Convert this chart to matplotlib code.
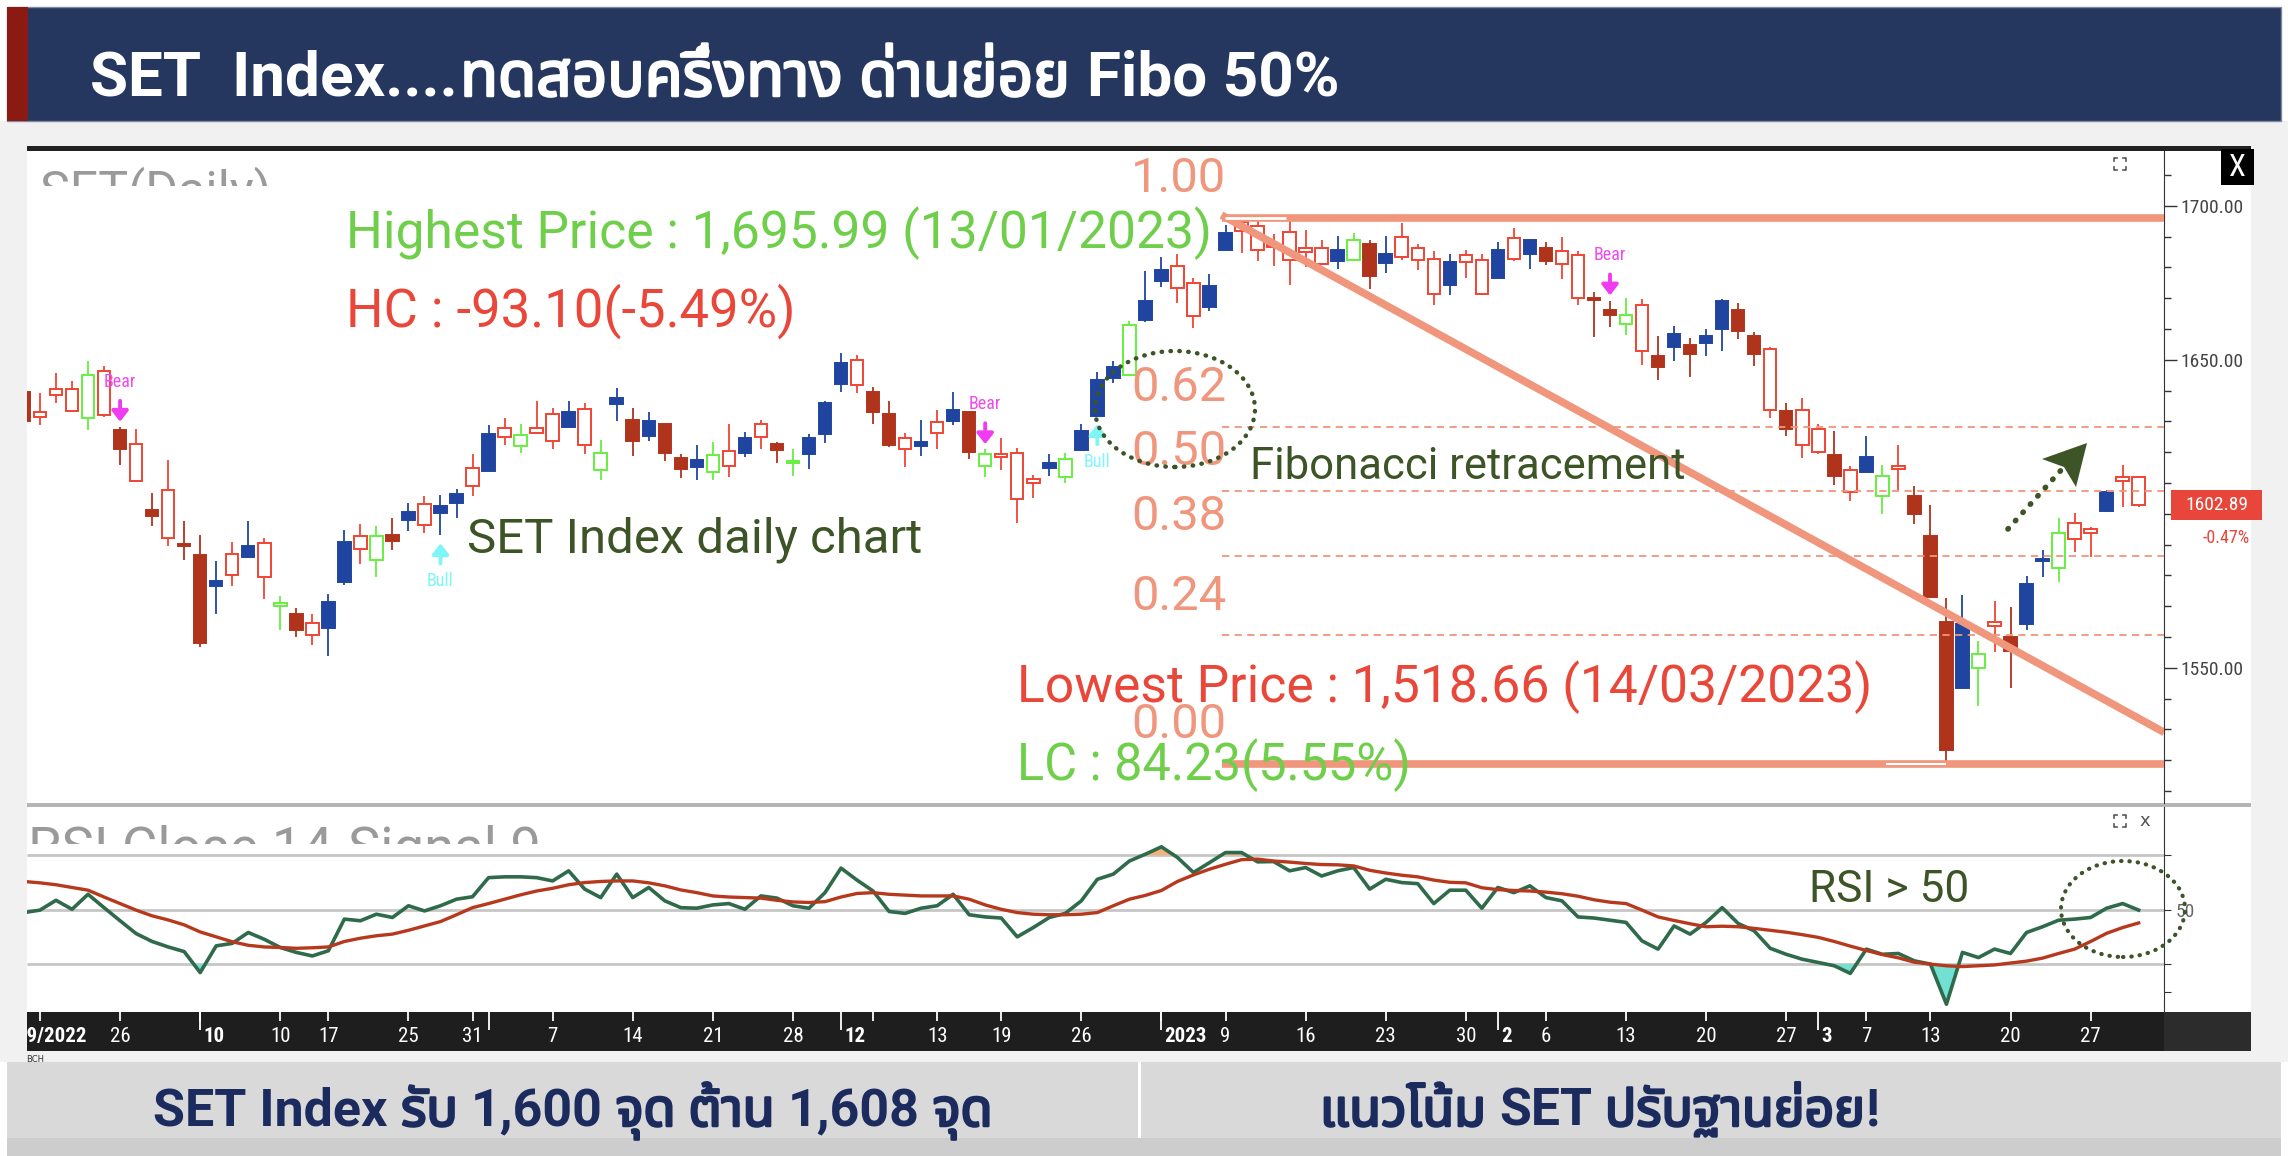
import matplotlib
matplotlib.use("Agg")
import numpy as np
import matplotlib.pyplot as plt
import matplotlib.patheffects as pe
from matplotlib import font_manager
from matplotlib.ft2font import FT2Font
from matplotlib.lines import Line2D
from matplotlib.patches import Ellipse, Polygon, Rectangle
from matplotlib.transforms import Bbox, TransformedBbox, blended_transform_factory

W, H = 2288, 1156  # output in pixels, dpi 100

# SET daily candles 16/09/2022 .. 30/03/2023 (one entry per trading day)
highs = [
    1640.2, 1639.1, 1645.6, 1643.1, 1649.6, 1648.0, 1628.2, 1627.5, 1606.6, 1617.4,
    1597.7, 1593.1, 1584.7, 1590.8, 1597.7, 1592.3, 1573.4, 1569.3, 1567.4, 1573.9,
    1594.9, 1596.6, 1596.0, 1598.5, 1603.4, 1605.7, 1606.1, 1607.9, 1619.4, 1628.8,
    1631.2, 1629.3, 1636.7, 1634.5, 1636.7, 1636.0, 1623.9, 1640.7, 1634.2, 1633.0,
    1629.3, 1619.3, 1622.3, 1623.4, 1629.3, 1626.4, 1630.6, 1623.4, 1620.9, 1625.9,
    1636.6, 1652.1, 1651.5, 1641.2, 1636.6, 1626.3, 1630.6, 1633.7, 1639.6, 1633.1,
    1620.9, 1624.5, 1621.5, 1612.6, 1619.3, 1619.8, 1629.3, 1646.1, 1649.6, 1662.6,
    1678.9, 1683.5, 1684.2, 1676.6, 1678.0, 1693.7, 1695.9, 1695.4, 1691.0, 1695.99,
    1692.0, 1688.9, 1690.2, 1691.2, 1688.9, 1690.2, 1694.3, 1687.7, 1685.4, 1684.2,
    1685.8, 1684.2, 1688.3, 1692.9, 1688.9, 1688.3, 1689.9, 1685.2, 1672.1, 1669.2,
    1670.2, 1669.6, 1657.8, 1660.9, 1657.2, 1660.0, 1669.7, 1668.5, 1659.0, 1654.3,
    1635.9, 1637.5, 1629.1, 1626.8, 1615.4, 1625.3, 1615.7, 1622.4, 1609.1, 1603.0,
    1572.7, 1573.7, 1558.8, 1571.8, 1569.7, 1579.8, 1588.2, 1598.7, 1600.3, 1595.8,
    1607.8, 1615.7, 1611.9]
body_hi = [
    1639.4, 1633.0, 1640.6, 1640.6, 1645.2, 1646.4, 1627.2, 1622.6, 1601.2, 1607.7,
    1590.0, 1586.5, 1578.3, 1586.9, 1589.5, 1590.6, 1570.9, 1567.4, 1564.4, 1571.4,
    1590.7, 1592.7, 1592.7, 1593.1, 1600.6, 1603.1, 1602.5, 1606.3, 1615.0, 1625.8,
    1628.0, 1625.5, 1628.0, 1632.3, 1633.0, 1634.0, 1619.8, 1637.7, 1630.6, 1630.1,
    1629.3, 1618.0, 1617.4, 1619.1, 1620.4, 1624.5, 1629.1, 1622.6, 1617.2, 1624.5,
    1636.0, 1649.0, 1650.1, 1639.5, 1632.4, 1624.5, 1623.4, 1629.9, 1633.7, 1633.1,
    1619.3, 1619.3, 1619.6, 1611.4, 1616.6, 1617.9, 1627.0, 1643.6, 1647.7, 1661.3,
    1669.2, 1679.3, 1680.4, 1675.0, 1673.9, 1691.2, 1694.8, 1693.4, 1687.2, 1691.6,
    1686.4, 1686.2, 1685.8, 1688.9, 1687.7, 1684.5, 1689.9, 1686.2, 1682.7, 1681.7,
    1683.9, 1682.3, 1685.8, 1689.5, 1688.9, 1686.4, 1685.2, 1683.9, 1670.2, 1666.2,
    1664.6, 1667.7, 1651.3, 1658.4, 1654.7, 1657.8, 1669.1, 1666.2, 1657.7, 1653.6,
    1633.4, 1633.7, 1627.4, 1619.2, 1614.1, 1618.6, 1612.2, 1615.4, 1605.9, 1592.9,
    1564.9, 1564.2, 1554.5, 1564.9, 1560.1, 1577.3, 1585.3, 1593.9, 1597.1, 1595.2,
    1607.2, 1611.9, 1611.9]
body_lo = [
    1630.2, 1631.3, 1638.5, 1633.3, 1631.0, 1632.0, 1621.2, 1610.6, 1599.2, 1592.2,
    1589.6, 1557.9, 1576.5, 1580.1, 1586.0, 1579.5, 1570.0, 1562.2, 1560.6, 1563.0,
    1577.7, 1588.5, 1585.0, 1591.2, 1598.0, 1596.3, 1600.3, 1603.4, 1609.0, 1614.0,
    1624.8, 1622.0, 1626.1, 1623.7, 1628.2, 1622.5, 1614.2, 1635.5, 1623.6, 1625.4,
    1619.9, 1614.7, 1615.3, 1613.6, 1615.5, 1619.9, 1625.0, 1620.7, 1616.6, 1619.4,
    1625.9, 1642.1, 1641.7, 1633.1, 1622.3, 1620.9, 1622.0, 1626.3, 1630.2, 1620.1,
    1615.5, 1618.5, 1604.7, 1610.1, 1615.0, 1612.0, 1620.7, 1631.8, 1644.0, 1645.0,
    1662.9, 1675.6, 1673.2, 1664.2, 1667.0, 1685.6, 1691.9, 1685.8, 1686.7, 1682.4,
    1684.9, 1681.1, 1682.1, 1682.3, 1677.3, 1681.4, 1683.3, 1682.3, 1671.5, 1674.3,
    1681.7, 1671.5, 1676.7, 1682.7, 1684.5, 1682.1, 1681.1, 1670.2, 1669.5, 1664.6,
    1661.5, 1653.0, 1647.6, 1654.0, 1651.8, 1655.3, 1660.0, 1659.4, 1652.0, 1633.7,
    1627.4, 1622.4, 1620.2, 1612.3, 1607.2, 1613.5, 1605.9, 1614.4, 1600.0, 1573.1,
    1523.4, 1543.6, 1550.0, 1563.6, 1555.4, 1564.2, 1584.8, 1582.3, 1591.7, 1593.7,
    1600.9, 1610.6, 1602.89]
lows = [
    1629.9, 1628.8, 1636.0, 1633.3, 1627.2, 1631.3, 1615.8, 1610.4, 1596.0, 1589.6,
    1585.0, 1556.8, 1567.4, 1576.5, 1586.0, 1572.4, 1562.2, 1559.9, 1557.4, 1553.8,
    1576.8, 1583.6, 1579.5, 1588.2, 1594.3, 1593.8, 1593.1, 1598.5, 1605.7, 1614.0,
    1622.3, 1619.9, 1626.1, 1621.2, 1628.2, 1619.4, 1610.9, 1630.2, 1618.7, 1623.6,
    1617.1, 1611.7, 1610.9, 1610.9, 1612.0, 1618.3, 1621.2, 1616.4, 1612.2, 1614.7,
    1623.1, 1639.6, 1639.1, 1629.0, 1621.8, 1615.3, 1618.7, 1621.2, 1628.8, 1617.7,
    1611.8, 1614.2, 1596.9, 1605.0, 1612.2, 1609.9, 1620.5, 1631.8, 1642.5, 1645.0,
    1662.4, 1673.7, 1668.3, 1660.2, 1665.9, 1685.6, 1684.8, 1682.0, 1680.4, 1674.2,
    1680.2, 1680.8, 1679.6, 1682.1, 1673.0, 1678.3, 1682.4, 1679.0, 1667.7, 1671.2,
    1676.7, 1671.2, 1676.5, 1682.1, 1679.6, 1680.8, 1676.2, 1667.7, 1657.5, 1660.5,
    1658.0, 1648.4, 1643.5, 1649.7, 1644.3, 1651.3, 1652.9, 1656.8, 1648.0, 1631.2,
    1625.3, 1618.2, 1619.5, 1609.3, 1604.0, 1613.5, 1600.0, 1607.8, 1596.7, 1573.1,
    1518.66, 1543.6, 1537.7, 1555.0, 1543.6, 1562.3, 1579.4, 1577.8, 1587.6, 1586.1,
    1600.5, 1602.1, 1602.1]
# B = blue filled, R = dark red filled, r = red hollow, g = green hollow
kinds = ("RrrrgrRrRr" "RRBrBrgRrB" "BrgRBrBBrB" "rgrrBrgBRB" "RRBgrBrRgB"
         "BBrRRrBrBR" "grrrBgBBBg" "BBrrBBrrrr" "rrBgRBrrrB" "rrBrBRrrRR"
         "grRBRBBRRr" "RrrRrBgrRR" "RBgrRBBgrrBrr")

rsi = [
    49.0, 49.9, 53.5, 50.2, 55.7, 50.8, 46.0, 41.3, 38.4, 36.4,
    34.7, 27.0, 36.8, 37.7, 41.7, 39.2, 36.2, 34.4, 33.1, 35.0,
    46.6, 46.0, 48.4, 47.2, 51.5, 49.6, 51.5, 53.9, 54.8, 61.8,
    62.1, 62.1, 61.8, 60.6, 64.3, 57.6, 54.5, 63.1, 54.5, 58.2,
    53.3, 50.8, 50.6, 51.8, 52.3, 50.2, 55.1, 54.3, 51.5, 50.6,
    56.3, 65.3, 60.9, 56.9, 49.4, 48.7, 50.6, 51.5, 55.7, 48.2,
    47.4, 47.0, 40.1, 43.5, 47.2, 48.7, 53.3, 61.2, 63.1, 67.9,
    70.4, 73.1, 69.2, 63.7, 67.3, 71.0, 71.0, 67.6, 67.7, 64.3,
    65.5, 62.4, 64.3, 65.5, 57.6, 61.2, 60.0, 59.6, 52.3, 57.2,
    57.2, 50.6, 58.2, 56.3, 58.8, 54.5, 53.3, 47.4, 47.0, 46.2,
    45.4, 38.6, 35.6, 44.1, 41.1, 45.4, 50.8, 45.0, 42.3, 35.9,
    33.7, 31.9, 30.7, 29.5, 26.7, 35.6, 33.7, 34.0, 31.3, 30.1,
    15.4, 34.4, 32.5, 35.6, 34.0, 41.7, 43.8, 46.2, 46.6, 47.2,
    50.6, 52.3, 49.9]
rsi_signal = [
    60.4, 59.9, 59.2, 58.2, 57.2, 54.7, 52.3, 49.9, 47.8, 46.3,
    44.5, 41.9, 40.1, 38.3, 37.0, 36.4, 36.2, 35.9, 36.1, 36.4,
    38.4, 39.6, 40.5, 41.1, 42.5, 44.1, 45.7, 48.2, 50.8, 52.3,
    53.9, 55.5, 56.9, 57.9, 59.2, 60.0, 60.4, 60.6, 60.6, 59.9,
    58.8, 57.3, 56.3, 55.1, 54.7, 54.5, 54.3, 53.5, 52.9, 52.7,
    53.0, 54.7, 56.0, 56.3, 55.7, 55.4, 55.1, 55.1, 55.1, 53.9,
    51.8, 50.2, 49.0, 48.4, 48.2, 48.2, 48.4, 49.0, 51.5, 53.9,
    55.3, 57.1, 60.4, 62.8, 64.9, 66.7, 68.4, 68.6, 67.9, 67.5,
    67.0, 66.6, 66.5, 66.1, 64.5, 63.5, 62.7, 62.1, 60.9, 60.1,
    59.9, 58.1, 57.4, 57.1, 56.9, 56.5, 55.9, 55.0, 53.7, 52.8,
    52.3, 49.9, 47.4, 46.1, 44.9, 43.8, 44.0, 43.8, 43.2, 42.5,
    41.8, 40.9, 39.9, 38.4, 36.7, 35.1, 33.6, 32.4, 30.8, 30.1,
    29.5, 29.2, 29.5, 29.8, 30.5, 31.2, 32.3, 34.0, 35.6, 38.4,
    41.4, 43.5, 45.2]

bear_idx = [6, 60, 99]
bull_idx = [26, 67]

# date axis: candle index of weekly / monthly ticks and their labels
week_ticks = [1, 6, 11, 16, 19, 24, 28, 33, 38, 43, 48, 53, 57, 61, 66, 71, 75,
              80, 85, 90, 95, 100, 105, 110, 115, 119, 124, 129]
month_ticks = [11, 29, 51, 71, 92, 112]
day_labels = [(6, "26"), (16, "10"), (19, "17"), (24, "25"), (28, "31"), (33, "7"),
              (38, "14"), (43, "21"), (48, "28"), (57, "13"), (61, "19"), (66, "26"),
              (75, "9"), (80, "16"), (85, "23"), (90, "30"), (95, "6"), (100, "13"),
              (105, "20"), (110, "27"), (115, "7"), (119, "13"), (124, "20"), (129, "27")]
month_labels = [(11, "10"), (51, "12"), (71, "2023"), (92, "2"), (112, "3")]

fib_high, fib_low = 1695.99, 1518.66
fib_start = 75
fib_levels = [1.0, 0.618, 0.5, 0.382, 0.236, 0.0]
fib_names = ["1.00", "0.62", "0.50", "0.38", "0.24", "0.00"]
trend_x = [74.75, 133.6]
trend_y = [1697.0, 1529.0]
last_price = 1602.89

# headline texts, split into Latin (L) and Thai (T) runs; number = gap before the run in em
title_parts = [("SET  Index....", "L", 0), ("ทดสอบครึ่งทาง", "T", 0.04),
               ("ด่านย่อย", "T", 0.28), ("Fibo 50%", "L", 0.28)]
support_parts = [("SET Index", "L", 0), ("รับ", "T", 0.25), ("1,600", "L", 0.25),
                 ("จุด", "T", 0.25), ("ต้าน", "T", 0.25), ("1,608", "L", 0.25),
                 ("จุด", "T", 0.25)]
trend_parts = [("แนวโน้ม", "T", 0), ("SET", "L", 0.25), ("ปรับฐานย่อย", "T", 0.25),
               ("!", "L", 0.02)]

CANDLE = {"B": "#1f45a0", "R": "#b0341c", "r": "#f04433", "g": "#66f040"}
SALMON = "#f0967c"
OLIVE = "#3d5427"
GREEN_T = "#6fcf4b"
RED_T = "#e8473a"
NAVY = "#26375f"
INK = "#1c2b5e"

names = {f.name for f in font_manager.fontManager.ttflist}


def pick(*cands):
    for c in cands:
        if c in names:
            return c
    return "DejaVu Sans"


def thai_font():
    found = []
    for f in font_manager.fontManager.ttflist:
        try:
            if 0x0E17 in FT2Font(f.fname).get_charmap():
                found.append(f.name)
        except Exception:
            pass
    for p in ["Noto Sans Thai", "Noto Sans Thai UI", "Noto Sans Thai Looped", "Kanit",
              "Prompt", "Sarabun", "Loma", "Garuda", "Waree", "Tlwg Typo"]:
        if p in found:
            return p
    return found[0] if found else "DejaVu Sans"


TXT = pick("Roboto", "Open Sans", "DejaVu Sans")
COND = pick("Roboto Condensed", "Liberation Sans Narrow", "DejaVu Sans")
BOLD = pick("Roboto", "Open Sans", "Lato", "DejaVu Sans")
THAI = thai_font()

fig = plt.figure(figsize=(W / 100, H / 100), dpi=100, facecolor="white")
renderer = fig.canvas.get_renderer()


def fpts(pts):
    return [(a / W, 1 - b / H) for a, b in pts]


def box(x0, y0, x1, y1, **kw):
    r = Rectangle((x0 / W, 1 - y1 / H), (x1 - x0) / W, (y1 - y0) / H,
                  transform=fig.transFigure, **kw)
    fig.add_artist(r)
    return r


def fline(pts, **kw):
    p = fpts(pts)
    fig.add_artist(Line2D([a for a, _ in p], [b for _, b in p],
                          transform=fig.transFigure, **kw))


def fit(t, width):
    w = t.get_window_extent(renderer).width
    if w > 0:
        t.set_fontsize(t.get_fontsize() * width / w)
    return t


def label(x, y, s, color, width, family=TXT, ha="left", **kw):
    t = fig.text(x / W, 1 - y / H, s, color=color, family=family, fontsize=30,
                 ha=ha, va="center", zorder=6, **kw)
    return fit(t, width)


def headline(x, baseline, parts, color, width, ha="left", stroke=1.8):
    # bold Latin runs + Thai runs thickened with a stroke (no bold Thai face available)
    texts = []
    for s, kind, _ in parts:
        if kind == "L":
            kw = dict(family=BOLD, weight="bold")
        else:
            kw = dict(family=THAI,
                      path_effects=[pe.withStroke(linewidth=stroke, foreground=color)])
        texts.append(fig.text(0, 0, s, color=color, fontsize=30, va="baseline",
                              ha="left", zorder=6, **kw))

    def widths(size):
        for t in texts:
            t.set_fontsize(size)
        px_em = size * 100 / 72
        return [t.get_window_extent(renderer).width + g * px_em
                for t, (_, _, g) in zip(texts, parts)], px_em

    ws, _ = widths(30)
    size = 30 * width / sum(ws)
    ws, px_em = widths(size)
    cur = x - sum(ws) / 2 if ha == "center" else x
    for t, w, (_, _, g) in zip(texts, ws, parts):
        cur += g * px_em
        t.set_position((cur / W, 1 - baseline / H))
        cur += w - g * px_em


# page background, banners
box(0, 121, W, 1062, fc="#f1f1f1", ec="none", zorder=-3)
box(27, 147, 2251, 1012, fc="white", ec="none", zorder=-2)
box(27, 146, 2251, 151, fc="#222222", ec="none", zorder=-1)
box(27, 803, 2251, 807, fc="#b5b5b5", ec="none", zorder=-1)
box(2164, 1012, 2251, 1051, fc="#2c2c2c", ec="none", zorder=-1)

box(7, 7, 2281, 121, fc=NAVY, ec="#7d8aa6", lw=1, zorder=-1)
box(7, 7, 28, 121, fc="#8b1b12", ec="none", zorder=-1)
headline(90, 96, title_parts, "white", 1250)

box(7, 1062, 1138, 1156, fc="#d9d9d9", ec="none", zorder=-1)
box(1141, 1062, 2281, 1156, fc="#d9d9d9", ec="none", zorder=-1)
box(7, 1138, 2281, 1156, fc="#cdcdcd", ec="none", zorder=-1)
headline(573, 1126, support_parts, INK, 840, ha="center")
headline(1600, 1126, trend_parts, INK, 560, ha="center")
fig.text(26 / W, 1 - 1055 / H, "BCH", fontsize=6, color="#333333", va="top")

# ---- price panel ----
x = np.arange(len(highs))
X0, X1 = 0.19, 133.58

ax = fig.add_axes([27 / W, 1 - 803 / H, 2137 / W, 652 / H])
ax.set_xlim(X0, X1)
ax.set_ylim(1506.1, 1717.8)
ax.set_facecolor("none")
for side in ("top", "left", "bottom"):
    ax.spines[side].set_visible(False)
ax.spines["right"].set_color("#333333")
ax.set_xticks([])
ax.yaxis.tick_right()
ax.set_yticks([1550, 1600, 1650, 1700])
ax.set_yticklabels(["1550.00", "", "1650.00", "1700.00"])
ax.set_yticks(np.arange(1510, 1711, 10), minor=True)
ax.tick_params(axis="y", which="major", length=9, width=1, color="#333333",
               labelsize=14, labelcolor="#444444", pad=3)
ax.tick_params(axis="y", which="minor", length=5, width=1, color="#333333")
for lab in ax.get_yticklabels():
    lab.set_family(COND)

for i in x:
    col = CANDLE[kinds[i]]
    hollow = kinds[i] in "rg"
    ax.vlines(i, lows[i], highs[i], color=col, lw=1.3, zorder=2)
    ht = max(body_hi[i] - body_lo[i], 0.6)
    ax.add_patch(Rectangle((i - 0.39, body_lo[i]), 0.78, ht,
                           facecolor="white" if hollow else col,
                           edgecolor=col, lw=1.4, zorder=3))

for i in bear_idx:
    ax.annotate("", xy=(i, highs[i] + 1.7), xytext=(i, highs[i] + 8.5),
                arrowprops=dict(arrowstyle="-|>,head_width=0.35,head_length=0.45",
                                color="#f03cf0", lw=2.8, shrinkA=0, shrinkB=0,
                                mutation_scale=14), zorder=5)
    ax.text(i, highs[i] + 14.7, "Bear", color="#f04af0", fontsize=13, family=COND,
            ha="center", va="center", zorder=5)
for i in bull_idx:
    ax.annotate("", xy=(i, lows[i] - 2.7), xytext=(i, lows[i] - 9.2),
                arrowprops=dict(arrowstyle="-|>,head_width=0.35,head_length=0.45",
                                color="#7ef6f6", lw=2.8, shrinkA=0, shrinkB=0,
                                mutation_scale=14), zorder=5)
    ax.text(i, lows[i] - 15.0, "Bull", color="#7ef6f6", fontsize=13, family=COND,
            ha="center", va="center", zorder=5)

# fibonacci retracement + trend line
span = fib_high - fib_low
fx0 = fib_start - 0.25
fib_texts = []
for r, name in zip(fib_levels, fib_names):
    y = fib_low + r * span
    if r in (0.0, 1.0):
        ax.hlines(y, fx0, X1, color=SALMON, lw=5.5, zorder=4)
    else:
        ax.hlines(y, fx0, X1, color=SALMON, lw=1.3, linestyles=(0, (4, 3)), zorder=4)
    t = ax.annotate(name, xy=(69.1, y), xytext=(0, 28), textcoords="offset points",
                    ha="left", va="center", color=SALMON, fontsize=30, family=TXT,
                    annotation_clip=False, zorder=6)
    fib_texts.append(t)
fit(fib_texts[0], 95)
for t in fib_texts[1:]:
    t.set_fontsize(fib_texts[0].get_fontsize())
ax.hlines(fib_high, fx0 + 0.2, fib_start + 3.8, color="white", lw=2, zorder=4.5)
ax.hlines(fib_low, 116.2, 120, color="white", lw=1.5, zorder=4.5)
ax.plot(trend_x, trend_y, color=SALMON, lw=5.5, solid_capstyle="butt", zorder=4)

# last price tag
bt = blended_transform_factory(ax.transAxes, ax.transData)
ax.add_patch(Rectangle((1.0033, last_price - 4.87), 0.0426, 9.74, transform=bt,
                       fc="#e8463b", ec="none", clip_on=False, zorder=6))
ax.text(1.0246, last_price, f"{last_price:.2f}", transform=bt, color="white",
        fontsize=14, family=COND, ha="center", va="center", zorder=7, clip_on=False)
ax.text(1.029, last_price - 10.8, "-0.47%", transform=bt, color="#e8463b",
        fontsize=13, family=COND, ha="center", va="center", clip_on=False)

# ---- RSI panel ----
axr = fig.add_axes([27 / W, 1 - 1012 / H, 2137 / W, 205 / H])
axr.set_xlim(X0, X1)
axr.set_ylim(12.55, 87.7)
axr.set_facecolor("none")
for side in ("top", "left", "bottom"):
    axr.spines[side].set_visible(False)
axr.spines["right"].set_color("#333333")
axr.set_xticks([])
axr.yaxis.tick_right()
axr.set_yticks([20, 30, 50, 70])
axr.set_yticklabels(["", "", "50", ""])
axr.tick_params(axis="y", length=5, color="#333333", labelsize=14, labelcolor="#666666")
for lab in axr.get_yticklabels():
    lab.set_family(COND)

rsi_a = np.array(rsi)
axr.hlines([30, 50, 70], X0, X1, color="#c6c6c6", lw=2, zorder=1)
axr.fill_between(x, rsi_a, 70, where=rsi_a > 70, interpolate=True,
                 color="#f2b27c", lw=0, zorder=2)
axr.fill_between(x, rsi_a, 30, where=rsi_a < 30, interpolate=True,
                 color="#72e0d2", lw=0, zorder=2)
axr.plot(x, rsi_a, color="#2f6a4b", lw=2.6, zorder=3)
axr.plot(x, rsi_signal, color="#b7391d", lw=2.4, zorder=4)

# ---- date band ----
axd = fig.add_axes([27 / W, 1 - 1051 / H, 2137 / W, 39 / H])
axd.set_xlim(X0, X1)
axd.set_ylim(0, 1)
axd.set_facecolor("#1e1e1e")
axd.set_xticks([])
axd.set_yticks([])
for s in axd.spines.values():
    s.set_visible(False)
axd.vlines(week_ticks, 0.77, 1, color="white", lw=1.3)
axd.vlines(month_ticks, 0.55, 1, color="white", lw=1.3)
for i, s in day_labels:
    axd.text(i, 0.36, s, ha="center", va="center", color="white", fontsize=15,
             family=COND, clip_on=True)
for i, s in month_labels:
    axd.text(i + 0.2, 0.36, s, ha="left", va="center", color="white", fontsize=15,
             family=COND, weight="bold", clip_on=True)
axd.text(-0.5, 0.36, "09/2022", ha="left", va="center", color="white", fontsize=15,
         family=COND, weight="bold", clip_on=True)

# ---- panel captions (cut off at the bottom like the original) ----
cap = fig.text(40 / W, 1 - 166 / H, "SET(Daily) -", color="#9a9a9a", family=TXT,
               fontsize=24, va="top", ha="left")
fit(cap, 258)
cap.set_clip_box(TransformedBbox(Bbox.from_extents(27 / W, 1 - 186 / H, 0.5, 1 - 150 / H),
                                 fig.transFigure))
cap.set_clip_on(True)
cap2 = fig.text(28 / W, 1 - 824 / H, "RSI Close 14-Signal 9-", color="#9a9a9a",
                family=TXT, fontsize=24, va="top", ha="left")
fit(cap2, 529)
cap2.set_clip_box(TransformedBbox(Bbox.from_extents(27 / W, 1 - 843.5 / H, 0.5, 1 - 808 / H),
                                  fig.transFigure))
cap2.set_clip_on(True)

# ---- annotations ----
label(346, 233, "Highest Price : 1,695.99 (13/01/2023)", GREEN_T, 865)
label(346, 311, "HC : -93.10(-5.49%)", RED_T, 449)
label(467, 540, "SET Index daily chart", OLIVE, 455)
label(1250, 467, "Fibonacci retracement", OLIVE, 435)
label(1017, 687, "Lowest Price : 1,518.66 (14/03/2023)", RED_T, 854)
label(1017, 765, "LC : 84.23(5.55%)", GREEN_T, 394)
label(1809, 890, "RSI > 50", OLIVE, 160)

dot = (0, (0.1, 1.9))
fig.add_artist(Ellipse((1175 / W, 1 - 409 / H), 160 / W, 116 / H, transform=fig.transFigure,
                       fill=False, ec=OLIVE, lw=3.2, ls=dot, capstyle="round", zorder=6))
fig.add_artist(Ellipse((2123 / W, 1 - 909 / H), 124 / W, 96 / H, transform=fig.transFigure,
                       fill=False, ec=OLIVE, lw=3.0, ls=dot, capstyle="round", zorder=6))
fline([(2008, 529), (2063, 468)], color=OLIVE, lw=4, ls=dot, dash_capstyle="round", zorder=6)
fig.add_artist(Polygon(fpts([(2087, 443), (2042, 459), (2064, 467), (2076, 487)]),
                       closed=True, transform=fig.transFigure, fc=OLIVE, ec="none", zorder=6))


def expand_icon(cx, cy, s=6, k=3):
    for dx in (-1, 1):
        for dy in (-1, 1):
            fline([(cx + dx * s, cy + dy * (s - k)), (cx + dx * s, cy + dy * s),
                   (cx + dx * (s - k), cy + dy * s)], color="#555555", lw=1.2, zorder=6)


expand_icon(2120, 164)
expand_icon(2120, 821)
fig.text(2145 / W, 1 - 821 / H, "x", color="#555555", fontsize=13, ha="center", va="center")
box(2221, 149, 2254, 185, fc="black", ec="none", zorder=6)
fig.text(2237.5 / W, 1 - 167 / H, "X", color="white", fontsize=22, family=COND,
         ha="center", va="center", zorder=7)

fig.savefig("out.png", dpi=100, facecolor=fig.get_facecolor())
